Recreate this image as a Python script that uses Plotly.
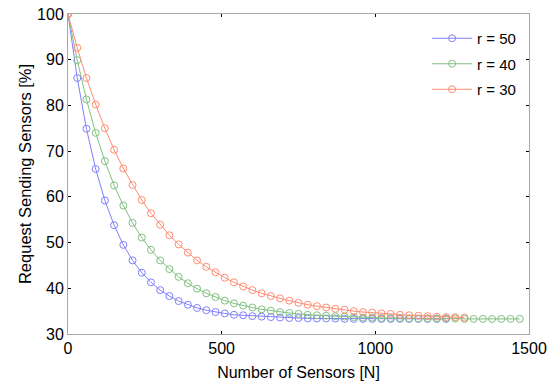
import plotly.graph_objects as go

step_n = 30
x_blue = list(range(0, 1231, step_n))
x_green = list(range(0, 1471, step_n))
x_red = list(range(0, 1291, step_n))

y_blue = [100.0, 86.0, 74.9, 66.1, 59.2, 53.8, 49.5, 46.1, 43.4, 41.3,
          39.6, 38.3, 37.2, 36.4, 35.7, 35.2, 34.8, 34.5, 34.2, 34.1,
          33.9, 33.8, 33.7, 33.6, 33.5, 33.5, 33.4, 33.4, 33.4, 33.4,
          33.3, 33.3, 33.3, 33.3, 33.3, 33.3, 33.3, 33.3, 33.3, 33.3,
          33.3, 33.3]
y_green = [100.0, 89.9, 81.3, 74.0, 67.8, 62.5, 58.1, 54.3, 51.1, 48.4,
           46.1, 44.2, 42.5, 41.1, 39.9, 38.9, 38.1, 37.3, 36.7, 36.2,
           35.8, 35.4, 35.1, 34.8, 34.6, 34.4, 34.2, 34.1, 34.0, 33.9,
           33.8, 33.7, 33.6, 33.6, 33.5, 33.5, 33.5, 33.4, 33.4, 33.4,
           33.4, 33.4, 33.4, 33.3, 33.3, 33.3, 33.3, 33.3, 33.3, 33.3]
y_red = [100.0, 92.6, 86.0, 80.2, 75.0, 70.3, 66.2, 62.6, 59.3, 56.4,
         53.9, 51.6, 49.6, 47.8, 46.1, 44.7, 43.5, 42.3, 41.3, 40.4,
         39.6, 38.9, 38.3, 37.8, 37.3, 36.8, 36.4, 36.1, 35.8, 35.5,
         35.3, 35.0, 34.8, 34.7, 34.5, 34.4, 34.2, 34.1, 34.0, 33.9,
         33.8, 33.7, 33.7, 33.6]

names = ["r = 50", "r = 40", "r = 30"]
colors = ["#7f7fff", "#80c080", "#ff8c72"]

x_ticks = [0, 500, 1000, 1500]
y_ticks = [30, 40, 50, 60, 70, 80, 90, 100]

FONT = "Liberation Sans, Arial, sans-serif"

fig = go.Figure()
for i, (xs, ys, nm, c) in enumerate(zip([x_blue, x_green, x_red], [y_blue, y_green, y_red], names, colors)):
    fig.add_trace(go.Scatter(
        x=xs, y=ys, name=nm, mode="lines+markers", legendgroup="g%d" % i,
        line=dict(color=c, width=1),
        marker=dict(symbol="circle-open", size=7, color=c, line=dict(width=1, color=c)),
    ))

axis_common = dict(
    showgrid=False, zeroline=False,
    showline=True, linecolor="#a8a8a8", linewidth=1, mirror="ticks",
    ticks="inside", ticklen=3, tickcolor="#000000", tickwidth=1,
    tickfont=dict(family=FONT, size=16, color="#000000"),
    ticklabeloverflow="allow",
)

fig.update_xaxes(range=[0, 1500], tickvals=x_ticks,
                 title=dict(text="Number of Sensors [N]", font=dict(family=FONT, size=16, color="#000"), standoff=10),
                 **axis_common)
fig.update_yaxes(range=[30, 100], tickvals=y_ticks,
                 title=dict(text="Request Sending Sensors [%]", font=dict(family=FONT, size=16.5, color="#000"), standoff=1),
                 **axis_common)

fig.update_layout(
    width=550, height=391,
    margin=dict(l=68, r=21, t=14, b=57, autoexpand=False),
    paper_bgcolor="white", plot_bgcolor="white",
    font=dict(family=FONT, size=15, color="#000"),
    showlegend=True,
    legend=dict(x=0.779, y=0.975, xanchor="left", yanchor="top",
                bgcolor="rgba(0,0,0,0)", borderwidth=0,
                font=dict(family=FONT, size=15, color="#000"),
                tracegroupgap=3, itemwidth=40),
)

fig.write_html("out.html", config={"displayModeBar": False},
               post_script="document.body.style.margin='0px';")
